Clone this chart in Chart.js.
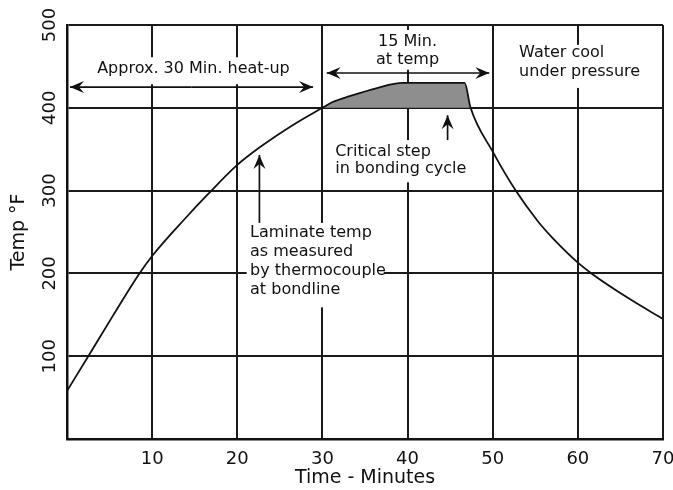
<!DOCTYPE html>
<html><head><meta charset="utf-8">
<script src="https://cdn.jsdelivr.net/npm/chart.js@4/dist/chart.umd.min.js"></script>
<style>html,body{margin:0;padding:0;background:#fff}</style>
</head><body>
<canvas id="c" width="673" height="490"></canvas>
<script>
// ---- data ----
const times = [0, 2.5, 5.4, 8.45, 10, 13.85, 16.5, 20, 22.6, 26.5, 30, 31.2, 33.2, 36.3, 39.4, 46.7, 47.4, 50, 52.7, 55.3, 57.1, 60, 61.6, 66.1, 70];
const temps = [58, 100, 149, 199, 221, 266, 295, 331, 352, 379, 400, 407, 414, 423.5, 430, 430, 400, 347, 300, 263, 242, 213, 200, 169, 145];
const shadeTimes = [30, 31.2, 33.2, 36.3, 39.4, 46.7, 47.4];
const shadeTemps = [400, 407, 414, 423.5, 430, 430, 400];
const xTicks = [10, 20, 30, 40, 50, 60, 70];
const yTicks = [100, 200, 300, 400, 500];
const xTitle = 'Time - Minutes';
const yTitle = 'Temp °F';

// ---- annotations (data coordinates) ----
const FONT = '"DejaVu Sans", sans-serif';
const notes = [
  {lines: ['Approx. 30 Min. heat-up'], x: 14.85, y: 447, align: 'center', lh: 19},
  {lines: ['15 Min.', 'at temp'], x: 40, y: 480, align: 'center', lh: 18},
  {lines: ['Water cool', 'under pressure'], x: 53.1, y: 466, align: 'left', lh: 19},
  {lines: ['Critical step', 'in bonding cycle'], x: 31.5, y: 347, align: 'left', lh: 17},
  {lines: ['Laminate temp', 'as measured', 'by thermocouple', 'at bondline'], x: 21.5, y: 249, align: 'left', lh: 19}
];
const masks = [ // [x0, x1, y0, y1]
  [2.7, 27.3, 461, 428.5],
  [35, 45, 494, 446],
  [52.3, 69, 476, 424],
  [31.1, 47.5, 361, 310],
  [21.1, 37.2, 261, 159]
];
const arrows = [ // [xFrom, yFrom, xTo, yTo]
  [14.6, 425, 0.35, 425],
  [14.6, 425, 28.9, 425],
  [40, 442, 30.5, 442],
  [40, 442, 49.6, 442],
  [22.6, 261, 22.6, 343],
  [44.7, 361, 44.7, 391]
];

function arrowHead(ctx, x1, y1, x2, y2) {
  const a = Math.atan2(y2 - y1, x2 - x1);
  const L = 14, W = 6, N = 9;
  ctx.save();
  ctx.translate(x2, y2); ctx.rotate(a);
  ctx.beginPath();
  ctx.moveTo(0, 0);
  ctx.lineTo(-L, -W);
  ctx.lineTo(-N, 0);
  ctx.lineTo(-L, W);
  ctx.closePath();
  ctx.fill();
  ctx.restore();
}

const annot = {
  id: 'annot',
  beforeDatasetsDraw(chart) {
    const {ctx, scales: {x, y}} = chart;
    ctx.save();
    ctx.fillStyle = '#fff';
    for (const m of masks) {
      const a = x.getPixelForValue(m[0]), b = x.getPixelForValue(m[1]);
      const c = y.getPixelForValue(m[2]), d = y.getPixelForValue(m[3]);
      ctx.fillRect(Math.min(a, b), Math.min(c, d), Math.abs(b - a), Math.abs(d - c));
    }
    ctx.restore();
  },
  afterDatasetsDraw(chart) {
    const {ctx, scales: {x, y}} = chart;
    ctx.save();
    ctx.fillStyle = '#111';
    ctx.strokeStyle = '#111';
    ctx.font = '16px ' + FONT;
    ctx.textBaseline = 'middle';
    for (const n of notes) {
      ctx.textAlign = n.align;
      const px = x.getPixelForValue(n.x);
      let py = y.getPixelForValue(n.y);
      for (const l of n.lines) { ctx.fillText(l, px, py); py += n.lh; }
    }
    ctx.lineWidth = 1.7;
    for (const a of arrows) {
      const x1 = x.getPixelForValue(a[0]), y1 = y.getPixelForValue(a[1]);
      const x2 = x.getPixelForValue(a[2]), y2 = y.getPixelForValue(a[3]);
      ctx.beginPath(); ctx.moveTo(x1, y1); ctx.lineTo(x2, y2); ctx.stroke();
      arrowHead(ctx, x1, y1, x2, y2);
    }
    ctx.restore();
  }
};

new Chart(document.getElementById('c'), {
  type: 'line',
  data: {
    datasets: [
      {
        data: times.map((t, i) => ({x: t, y: temps[i]})),
        borderColor: '#111', borderWidth: 1.8, pointRadius: 0,
        cubicInterpolationMode: 'monotone', fill: false, order: 1
      },
      {
        data: shadeTimes.map((t, i) => ({x: t, y: shadeTemps[i]})),
        borderWidth: 0, borderColor: 'rgba(0,0,0,0)', pointRadius: 0,
        backgroundColor: '#8e8e8e', fill: {value: 400},
        cubicInterpolationMode: 'monotone', order: 2
      }
    ]
  },
  options: {
    responsive: false, animation: false, devicePixelRatio: 1,
    layout: {padding: {top: 25, right: 10, left: 0, bottom: 0}},
    plugins: {legend: {display: false}, tooltip: {enabled: false}},
    scales: {
      x: {
        type: 'linear', min: 0, max: 70,
        afterFit(s) { s.height = 51; s.paddingRight = 0; s.paddingLeft = 0; },
        afterBuildTicks(s) { s.ticks = [0].concat(xTicks).map(v => ({value: v})); },
        ticks: {
          color: '#111', font: {family: FONT, size: 18}, padding: 10,
          callback: v => xTicks.includes(v) ? String(v) : ''
        },
        grid: {color: '#1a1a1a', lineWidth: 2, drawTicks: false},
        border: {color: '#111', width: 2.5},
        title: {display: true, text: xTitle, color: '#111', font: {family: FONT, size: 19}, padding: {top: 0, bottom: 1}}
      },
      y: {
        min: 0, max: 500,
        afterFit(s) { s.width = 67; },
        afterBuildTicks(s) { s.ticks = [0].concat(yTicks).map(v => ({value: v})); },
        ticks: {
          color: '#111', font: {family: FONT, size: 18}, padding: -1,
          minRotation: 90, maxRotation: 90, crossAlign: 'center',
          callback: v => yTicks.includes(v) ? String(v) : ''
        },
        grid: {color: '#1a1a1a', lineWidth: 2, drawTicks: false},
        border: {color: '#111', width: 2.5},
        title: {display: true, text: yTitle, color: '#111', font: {family: FONT, size: 19}, padding: {top: 8, bottom: 0}}
      }
    }
  },
  plugins: [annot]
});
</script>
</body></html>
